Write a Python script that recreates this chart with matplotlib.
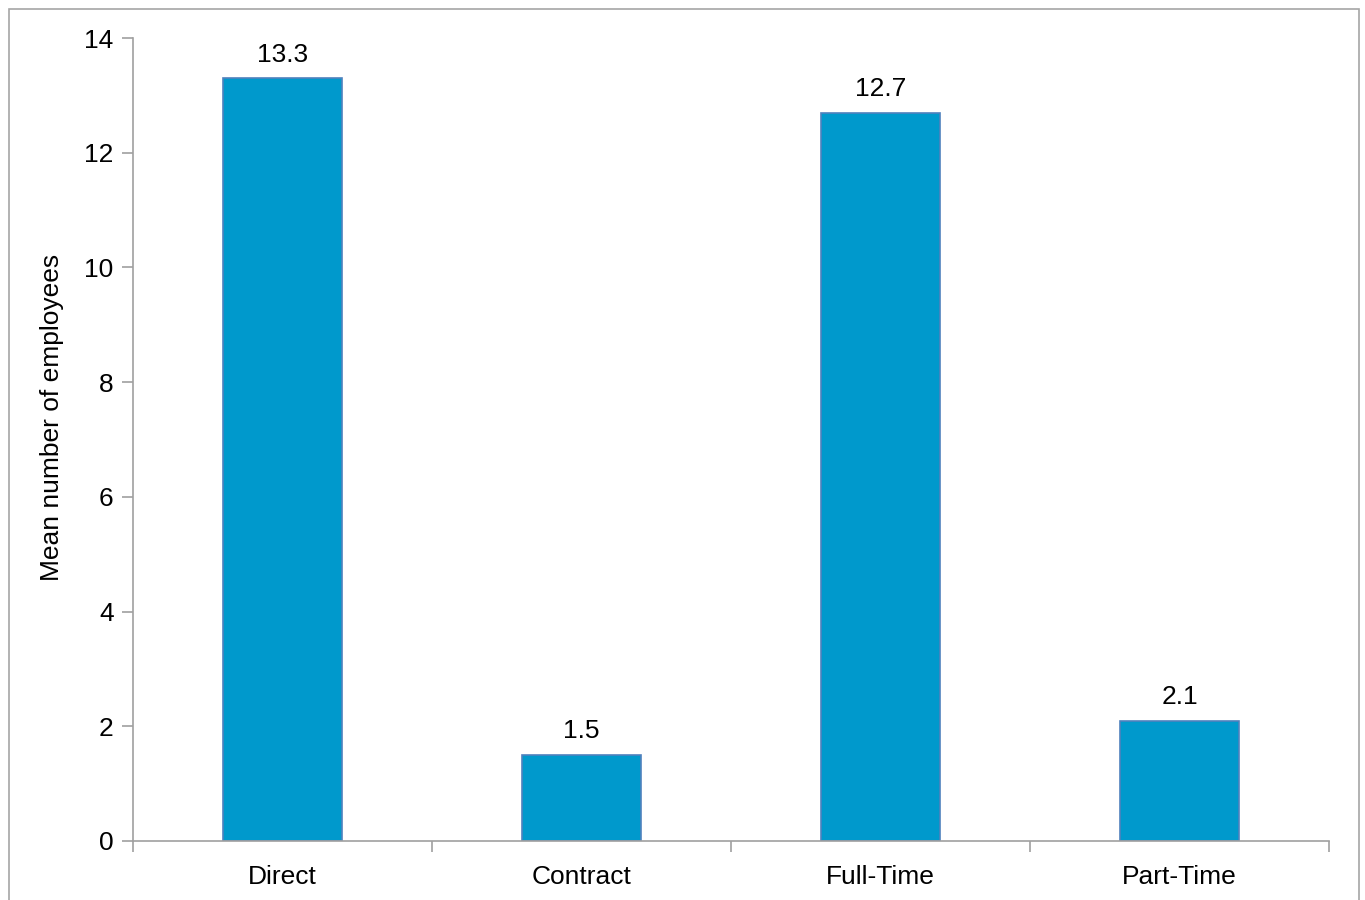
import matplotlib.pyplot as plt
from matplotlib.patches import Rectangle
import numpy as np

plt.rcParams['font.family'] = ['Liberation Sans', 'DejaVu Sans']

# data
categories = ['Direct', 'Contract', 'Full-Time', 'Part-Time']
values = [13.3, 1.5, 12.7, 2.1]
labels = ['13.3', '1.5', '12.7', '2.1']

FS = 19
W, H = 1365, 900
fig = plt.figure(figsize=(W / 100, H / 100), dpi=100)
ax = fig.add_axes([133 / W, 1 - 841 / H, (1329 - 133) / W, (841 - 38) / H])

# outer chart border (runs off the bottom edge)
fig.patches.append(Rectangle((9 / W, -0.05), (1359 - 9) / W, 1 - 9 / H + 0.05,
                             transform=fig.transFigure, fill=False,
                             edgecolor='#a6a6a6', linewidth=1.2))

x = np.arange(len(categories))
bars = ax.bar(x, values, width=0.4, color='#0099cc', edgecolor='#4f81bd', linewidth=1.2)
for xi, v, lab in zip(x, values, labels):
    ax.text(xi, v + 0.2, lab, ha='center', va='bottom', fontsize=FS)

ax.set_xlim(-0.5, len(categories) - 0.5)
ax.set_ylim(0, 14)
ax.set_yticks(range(0, 15, 2))
ax.set_xticks(x)
ax.set_xticklabels(categories, fontsize=FS)
ax.set_xticks(np.arange(-0.5, len(categories), 1), minor=True)
ax.tick_params(axis='x', which='major', length=0, pad=17)
ax.tick_params(axis='x', which='minor', length=8, color='#a0a0a0', width=1.2)
ax.tick_params(axis='y', length=8, color='#a0a0a0', width=1.2, labelsize=FS, pad=6)

for s in ['top', 'right']:
    ax.spines[s].set_visible(False)
for s in ['left', 'bottom']:
    ax.spines[s].set_color('#a0a0a0')
    ax.spines[s].set_linewidth(1.2)

ax.set_ylabel('Mean number of employees', fontsize=FS)
ax.yaxis.set_label_coords(-0.058, 0.528)

fig.savefig('out.png', dpi=100)
